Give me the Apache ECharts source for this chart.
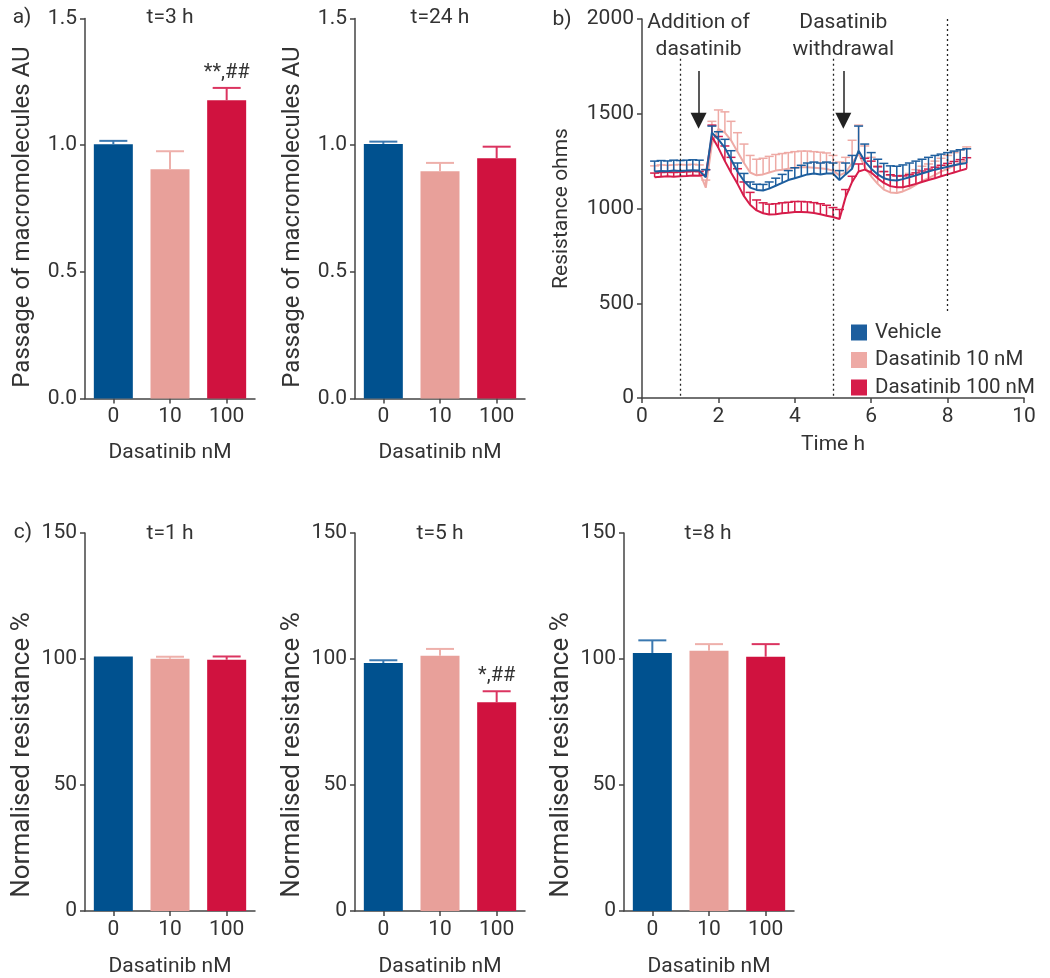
<!DOCTYPE html>
<html><head><meta charset="utf-8">
<script src="https://cdn.jsdelivr.net/npm/echarts@6/dist/echarts.min.js"></script>
<style>html,body{margin:0;padding:0;background:#fff}#c{width:1050px;height:978px}</style>
</head><body><div id="c"></div>
<script>
// ---------- DATA ----------
const doses = ['0', '10', '100'];
const seriesNames = ['Vehicle', 'Dasatinib 10 nM', 'Dasatinib 100 nM'];

// panel a: passage of macromolecules (AU)
const passage3h = [1.004, 0.905, 1.177];
const passage3hErr = [0.013, 0.071, 0.049];
const passage3hSig = ['', '', '**,##'];
const passage24h = [1.005, 0.897, 0.948];
const passage24hErr = [0.009, 0.033, 0.046];
const passage24hSig = ['', '', ''];

// panel c: normalised resistance (%)
const norm1h = [101.0, 100.1, 99.7];
const norm1hErr = [0, 0.8, 1.3];
const norm1hSig = ['', '', ''];
const norm5h = [98.4, 101.3, 82.8];
const norm5hErr = [1.1, 2.7, 4.4];
const norm5hSig = ['', '', '*,##'];
const norm8h = [102.4, 103.3, 100.9];
const norm8hErr = [5.0, 2.6, 5.0];
const norm8hSig = ['', '', ''];

// panel b: resistance (ohms) over time (h)
const timeH = [0.33,0.5,0.67,0.83,1,1.17,1.33,1.5,1.67,1.83,
  2,2.17,2.33,2.5,2.67,2.83,
  3,3.17,3.33,3.5,3.67,3.83,
  4,4.17,4.33,4.5,4.67,4.83,
  5,5.17,5.33,5.5,5.67,5.83,
  6,6.17,6.33,6.5,6.67,6.83,
  7,7.17,7.33,7.5,7.67,7.83,
  8,8.17,8.33,8.5];
const vehicleMean = [1195,1198,1196,1200,1198,1200,1202,1200,1165,1400,
  1365,1320,1260,1195,1145,1110,
  1098,1095,1105,1120,1135,1150,
  1160,1170,1180,1185,1180,1185,
  1185,1150,1180,1210,1305,1250,
  1210,1180,1160,1150,1148,1155,
  1165,1175,1185,1195,1205,1212,
  1220,1228,1235,1240];
const vehicleErr = [55,55,55,55,55,55,55,55,40,35,
  40,45,45,45,40,30,
  30,32,35,40,45,50,
  55,58,60,60,60,60,
  55,50,60,70,130,90,
  85,80,78,75,75,75,
  75,75,75,75,75,75,
  75,75,75,75];
const dasa10Mean = [1190,1195,1193,1195,1197,1195,1198,1195,1110,1340,
  1420,1400,1360,1300,1240,1190,
  1175,1180,1190,1200,1205,1210,
  1215,1218,1218,1215,1212,1208,
  1200,1175,1190,1240,1290,1220,
  1170,1130,1100,1085,1082,1090,
  1105,1125,1145,1160,1178,1195,
  1210,1225,1240,1255];
const dasa10Err = [35,35,35,35,35,35,35,35,40,120,
  100,110,100,100,100,90,
  85,85,85,85,85,85,
  85,85,85,85,85,85,
  80,70,80,120,150,110,
  100,95,95,90,90,85,
  80,80,78,75,72,70,
  70,70,70,70];
const dasa100Mean = [1165,1168,1170,1168,1170,1172,1174,1173,1180,1380,
  1320,1250,1190,1130,1065,1020,
  990,975,968,970,975,978,
  982,982,980,976,970,962,
  955,945,1060,1140,1195,1205,
  1190,1160,1135,1118,1112,1112,
  1120,1130,1140,1150,1160,1170,
  1180,1190,1200,1210];
const dasa100Err = [22,22,22,22,22,22,22,22,25,60,
  60,80,80,80,75,65,
  55,55,55,55,55,55,
  55,55,55,55,55,55,
  50,50,40,30,40,60,
  60,60,60,60,60,60,
  58,58,58,58,58,58,
  58,58,58,58];
const eventTimes = [1, 5, 8];
const arrowTimes = [1.48, 5.27];
const arrowLabels = ['Addition of\ndasatinib', 'Dasatinib\nwithdrawal'];

// ---------- STYLE ----------
const FONT = 'Roboto';
const FS = 21;
const TXT = '#333';
const AX = '#444';
const barColors = ['#00518f', '#e8a09a', '#d0123f'];
const errColors = ['#3a78b0', '#eeb0ab', '#db3460'];
const lineColors = ['#1d5e9e', '#eeaaa5', '#d61c4a'];

const grid = [], xAxis = [], yAxis = [], series = [], graphic = [];

function axisCommon() {
  return {
    axisLine: {show: true, lineStyle: {color: AX, width: 1.5}},
    axisTick: {show: true, length: 5, lineStyle: {color: AX, width: 1.5}},
    axisLabel: {color: TXT, fontSize: FS, fontFamily: FONT},
    splitLine: {show: false},
    nameTextStyle: {color: TXT, fontSize: FS, fontFamily: FONT}
  };
}

function barPanel(left, top, vals, errs, sig, yMax, yInt, digits, yName, xGap, yNameSize, yNameShift) {
  const i = grid.length;
  grid.push({left: left, top: top, width: 170, height: 380});
  xAxis.push(Object.assign(axisCommon(), {
    gridIndex: i, type: 'category', data: doses, boundaryGap: true,
    name: 'Dasatinib nM', nameLocation: 'middle', nameGap: xGap,
    axisTick: {show: true, alignWithLabel: true, length: 5, lineStyle: {color: AX, width: 1.5}}
  }));
  const ya = axisCommon();
  ya.axisLabel.formatter = v => v.toFixed(digits);
  ya.axisLabel.margin = 8;
  ya.nameTextStyle = {color: TXT, fontSize: yNameSize, fontFamily: FONT, padding: [0, yNameShift * 2, 0, 0]};
  yAxis.push(Object.assign(ya, {
    gridIndex: i, type: 'value', min: 0, max: yMax, interval: yInt,
    name: yName, nameLocation: 'middle', nameGap: 50
  }));
  series.push({
    type: 'bar', xAxisIndex: i, yAxisIndex: i, barWidth: 39, silent: true,
    data: vals.map((v, k) => ({value: v, itemStyle: {color: barColors[k]}}))
  });
  series.push({
    type: 'custom', xAxisIndex: i, yAxisIndex: i, silent: true, z: 3,
    data: vals.map((v, k) => [k, v, errs[k]]),
    renderItem: function (params, api) {
      const k = params.dataIndex;
      const x = api.value(0), m = api.value(1), e = api.value(2);
      const p0 = api.coord([x, m]), p1 = api.coord([x, m + e]);
      const ch = [];
      if (e > 0) {
        ch.push({type: 'line', shape: {x1: p0[0], y1: p0[1], x2: p1[0], y2: p1[1]}, style: {stroke: errColors[k], lineWidth: 2}});
        ch.push({type: 'line', shape: {x1: p1[0] - 14, y1: p1[1], x2: p1[0] + 14, y2: p1[1]}, style: {stroke: errColors[k], lineWidth: 2}});
      }
      if (sig[k]) {
        ch.push({type: 'text', style: {text: sig[k], x: p1[0], y: p1[1] - 5, align: 'center', verticalAlign: 'bottom',
          fill: TXT, fontSize: FS - 1, fontFamily: FONT}});
      }
      return {type: 'group', children: ch};
    }
  });
}

barPanel(85, 18.5, passage3h, passage3hErr, passage3hSig, 1.5, 0.5, 1, 'Passage of macromolecules AU', 44, 24, 8.5);
barPanel(355, 18.5, passage24h, passage24hErr, passage24hSig, 1.5, 0.5, 1, 'Passage of macromolecules AU', 44, 24, 8.5);
barPanel(85, 533, norm1h, norm1hErr, norm1hSig, 150, 50, 0, 'Normalised resistance %', 45, 26, 33);
barPanel(355, 533, norm5h, norm5hErr, norm5hSig, 150, 50, 0, 'Normalised resistance %', 45, 26, 33);
barPanel(624, 533, norm8h, norm8hErr, norm8hSig, 150, 50, 0, 'Normalised resistance %', 45, 26, 33);

// panel b
const bi = grid.length;
grid.push({left: 642, top: 19, width: 382, height: 379});
xAxis.push(Object.assign(axisCommon(), {
  gridIndex: bi, type: 'value', min: 0, max: 10, interval: 2,
  name: 'Time h', nameLocation: 'middle', nameGap: 36
}));
const yb = axisCommon();
yb.axisLabel.margin = 8;
yb.axisLabel.formatter = v => String(v);
yAxis.push(Object.assign(yb, {
  gridIndex: bi, type: 'value', min: 0, max: 2000, interval: 500,
  name: 'Resistance ohms', nameLocation: 'middle', nameGap: 70
}));

function errRender(color) {
  return function (params, api) {
    const x = api.value(0), m = api.value(1), e = api.value(2);
    const p0 = api.coord([x, m]), p1 = api.coord([x, m + e]);
    return {type: 'group', children: [
      {type: 'line', shape: {x1: p0[0], y1: p0[1], x2: p1[0], y2: p1[1]}, style: {stroke: color, lineWidth: 1.5}},
      {type: 'line', shape: {x1: p1[0] - 4.5, y1: p1[1], x2: p1[0] + 4.5, y2: p1[1]}, style: {stroke: color, lineWidth: 1.5}}
    ]};
  };
}

const bData = [
  {name: seriesNames[1], mean: dasa10Mean, err: dasa10Err, color: lineColors[1], z: 2},
  {name: seriesNames[2], mean: dasa100Mean, err: dasa100Err, color: lineColors[2], z: 3},
  {name: seriesNames[0], mean: vehicleMean, err: vehicleErr, color: lineColors[0], z: 4}
];
bData.forEach(s => {
  series.push({
    type: 'custom', name: s.name + ' SEM', xAxisIndex: bi, yAxisIndex: bi, silent: true, z: s.z,
    data: timeH.map((t, k) => [t, s.mean[k], s.err[k]]),
    renderItem: errRender(s.color)
  });
  series.push({
    type: 'line', name: s.name, xAxisIndex: bi, yAxisIndex: bi, z: s.z, silent: true,
    data: timeH.map((t, k) => [t, s.mean[k]]),
    showSymbol: false, symbol: 'none',
    itemStyle: {color: s.color},
    lineStyle: {color: s.color, width: 2}
  });
});

// event lines (dotted) and arrows
series.push({
  type: 'line', xAxisIndex: bi, yAxisIndex: bi, data: [], silent: true,
  markLine: {
    silent: true, symbol: ['none', 'none'], animation: false,
    lineStyle: {type: [2, 3], color: '#222', width: 1.3},
    label: {show: false},
    data: [
      [{coord: [eventTimes[0], 1790]}, {coord: [eventTimes[0], 0]}],
      [{coord: [eventTimes[1], 1790]}, {coord: [eventTimes[1], 0]}],
      [{coord: [eventTimes[2], 2000]}, {coord: [eventTimes[2], 450]}]
    ]
  }
});
series.push({
  type: 'line', xAxisIndex: bi, yAxisIndex: bi, data: [], silent: true,
  markLine: {
    silent: true, symbol: ['none', 'triangle'], symbolSize: [16, 16], animation: false,
    lineStyle: {type: 'solid', color: '#222', width: 1.5},
    label: {show: true, position: 'start', distance: 8, color: TXT, fontSize: FS, fontFamily: FONT,
      lineHeight: 27, align: 'center'},
    data: arrowTimes.map((t, k) => [
      {coord: [t, 1726], label: {formatter: arrowLabels[k]}},
      {coord: [t, 1463]}
    ])
  }
});

// titles & panel letters
function txt(x, y, s) {
  graphic.push({type: 'text', x: x, y: y, style: {text: s, fill: TXT, fontSize: FS, fontFamily: FONT,
    align: 'center', verticalAlign: 'middle'}});
}
txt(22, 18, 'a)');
txt(562, 20, 'b)');
txt(23, 533, 'c)');
txt(170, 18, 't=3 h');
txt(440, 18, 't=24 h');
txt(170, 534, 't=1 h');
txt(440, 534, 't=5 h');
txt(708, 534, 't=8 h');

const chart = echarts.init(document.getElementById('c'), null, {renderer: 'canvas'});
chart.setOption({
  animation: false,
  backgroundColor: '#fff',
  textStyle: {fontFamily: FONT},
  grid: grid, xAxis: xAxis, yAxis: yAxis, series: series, graphic: graphic,
  legend: {
    data: seriesNames, icon: 'rect', orient: 'vertical', left: 846, top: 317,
    itemWidth: 16, itemHeight: 16, itemGap: 6.5,
    textStyle: {color: TXT, fontSize: 20.5, fontFamily: FONT, padding: [0, 0, 0, 3]},
    selectedMode: false
  }
});
</script></body></html>
